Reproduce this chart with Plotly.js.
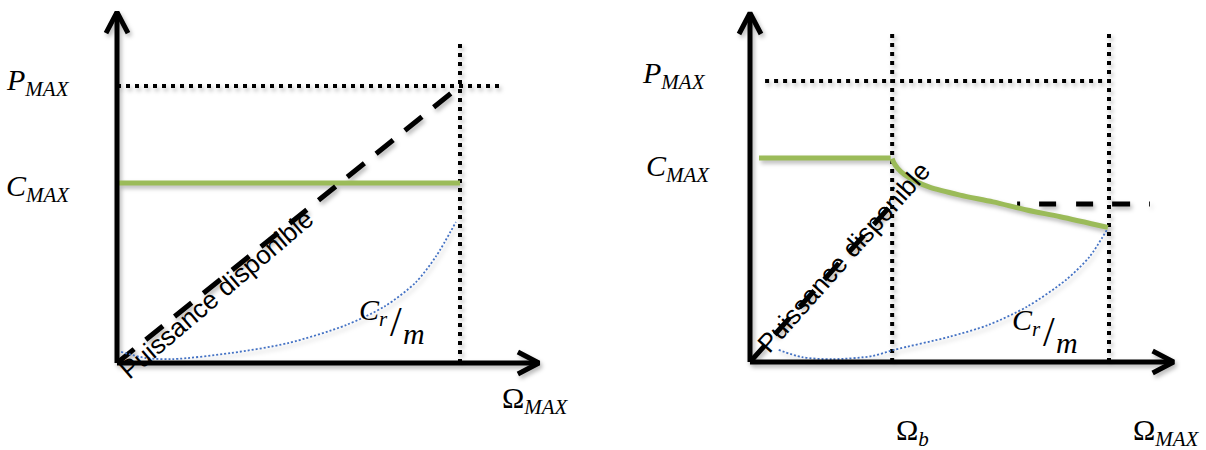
<!DOCTYPE html>
<html>
<head>
<meta charset="utf-8">
<script src="https://cdn.plot.ly/plotly-3.0.1.min.js"></script>
<style>
  html, body { margin: 0; padding: 0; background: #ffffff; }
  #chart { width: 1206px; height: 450px; }
  /* soft drop shadow under every drawn line */
  #chart .scatterlayer { filter: drop-shadow(2px 3px 2px rgba(0,0,0,0.28)); }
</style>
</head>
<body>
<div id="chart"></div>
<script>
// ---- Constant-torque drive (left) ----
const omegaMaxL = 1.0;          // Ω_MAX
const pMaxL = 1.0;              // P_MAX
const cMaxL = 0.65;             // C_MAX
const powerL_x = [0, 1.0];      // available power rises linearly up to Ω_MAX
const powerL_y = [0, 1.0];
const loadL_x = [0.012, 0.085, 0.163, 0.332, 0.499, 0.668, 0.781, 0.870, 0.930, 0.988];
const loadL_y = [0.040, 0.018, 0.014, 0.036, 0.072, 0.137, 0.205, 0.290, 0.385, 0.509];
const axisEndL = { x: 1.23, y: 1.267 };
const refEndL = { pmaxX: 1.128, omegaTop: 1.159 };

// ---- Constant-torque then constant-power drive (right) ----
const omegaMaxR = 1.0;
const omegaB = 0.396;           // Ω_b, base speed
const pMaxR = 1.0;
const cMaxR = 0.726;
const pConst = 0.562;           // power reached at Ω_b
const powerR_x = [0, 0.396];
const powerR_y = [0, 0.562];
const powerFlat_x = [0.744, 1.114];
const torqueFlat_x = [0.025, 0.392];
const torqueCurve_x = [0.396, 0.401, 0.412, 0.430, 0.460, 0.500, 0.585, 0.677, 0.771, 0.864, 0.997];
const torqueCurve_y = [0.724, 0.708, 0.688, 0.667, 0.644, 0.622, 0.594, 0.570, 0.541, 0.517, 0.479];
const loadR_x = [0.080, 0.145, 0.231, 0.340, 0.401, 0.556, 0.664, 0.772, 0.880, 0.946, 0.994];
const loadR_y = [0.043, 0.017, 0.010, 0.021, 0.043, 0.090, 0.132, 0.197, 0.292, 0.375, 0.470];
const axisEndR = { x: 1.18, y: 1.242 };
const refEndR = { pmaxX0: 0.042, pmaxX1: 1.0, omegaTop: 1.174 };

// Text
const labelP = "<i>P</i><sub><i>MAX</i></sub>";
const labelC = "<i>C</i><sub><i>MAX</i></sub>";
const labelOmegaMax = "Ω<sub><i>MAX</i></sub>";
const labelOmegaB = "Ω<sub><i>b</i></sub>";
const labelLoadNum = "<i>C</i><sub><i>r</i></sub>";
const labelLoadSlash = "/";
const labelLoadDen = "<i>m</i>";
const labelPower = "Puissance disponible";

// ---- Panel geometry (pixel placement of each diagram's origin and unit) ----
const W = 1206, H = 450;
const panels = {
  L: { x0: 0,   x1: 603,  ox: 117, oy: 363, ux: 343, uy: 277 },
  R: { x0: 603, x1: 1206, ox: 750, oy: 362, ux: 359, uy: 281 }
};
function axisRanges(p) {
  return {
    x: [(p.x0 - p.ox) / p.ux, (p.x1 - p.ox) / p.ux],
    y: [(p.oy - H) / p.uy, p.oy / p.uy]
  };
}
const rL = axisRanges(panels.L), rR = axisRanges(panels.R);

const BLACK = "#000000", GREEN = "#9BBB59", BLUE = "#4472C4";
const serif = "Liberation Serif, Times New Roman, serif";
const sans = "Liberation Sans, Arial, sans-serif";

function line(xs, ys, xa, ya, color, width, dash, shape) {
  return {
    type: "scatter", mode: "lines", x: xs, y: ys, xaxis: xa, yaxis: ya,
    line: { color: color, width: width, dash: dash || "solid", shape: shape || "linear", smoothing: 0.8 },
    hoverinfo: "skip", showlegend: false, cliponaxis: false
  };
}

// open chevron arrowheads, 21 px long and 22 px wide
function chevrons(p, end, xa, ya) {
  const len = 21, half = 11;
  const dx = len / p.ux, dy = len / p.uy, hx = half / p.ux, hy = half / p.uy;
  return [
    line([end.x - dx, end.x, end.x - dx], [hy, 0, -hy], xa, ya, BLACK, 5),
    line([-hx, 0, hx], [end.y - dy, end.y, end.y - dy], xa, ya, BLACK, 5)
  ];
}

const DOT = "4px,5px";
const DASH = "22px,15px";

const traces = [
  // left diagram
  line([0, refEndL.pmaxX], [pMaxL, pMaxL], "x", "y", BLACK, 4, DOT),
  line([omegaMaxL, omegaMaxL], [0, refEndL.omegaTop], "x", "y", BLACK, 4, DOT),
  line([0, omegaMaxL], [cMaxL, cMaxL], "x", "y", GREEN, 5),
  line(powerL_x, powerL_y, "x", "y", BLACK, 5, DASH),
  line(loadL_x, loadL_y, "x", "y", BLUE, 1.8, "2px,2px", "spline"),
  line([0, axisEndL.x], [0, 0], "x", "y", BLACK, 5),
  line([0, 0], [0, axisEndL.y], "x", "y", BLACK, 5),
  ...chevrons(panels.L, axisEndL, "x", "y"),

  // right diagram
  line([refEndR.pmaxX0, refEndR.pmaxX1], [pMaxR, pMaxR], "x2", "y2", BLACK, 4, DOT),
  line([omegaB, omegaB], [0, refEndR.omegaTop], "x2", "y2", BLACK, 4, DOT),
  line([omegaMaxR, omegaMaxR], [0, refEndR.omegaTop], "x2", "y2", BLACK, 4, DOT),
  line(powerR_x, powerR_y, "x2", "y2", BLACK, 5, DASH),
  line(powerFlat_x, [pConst, pConst], "x2", "y2", BLACK, 5, "3px,19px,17px,20px,17px,19px,18px,19px,3px"),
  line(torqueFlat_x, [cMaxR, cMaxR], "x2", "y2", GREEN, 5),
  line(torqueCurve_x, torqueCurve_y, "x2", "y2", GREEN, 5, "solid", "spline"),
  line(loadR_x, loadR_y, "x2", "y2", BLUE, 1.8, "2px,2px", "spline"),
  line([0, axisEndR.x], [0, 0], "x2", "y2", BLACK, 5),
  line([0, 0], [0, axisEndR.y], "x2", "y2", BLACK, 5),
  ...chevrons(panels.R, axisEndR, "x2", "y2")
];

function ann(text, xa, ya, x, y, xanchor, opts) {
  return Object.assign({
    text: text, xref: xa, yref: ya, x: x, y: y, xanchor: xanchor, yanchor: "middle",
    showarrow: false, font: { family: serif, size: 30, color: BLACK }
  }, opts || {});
}

// C_r / m written as a stacked-looking ratio around an anchor point
function loadLabel(xa, ya, x, y) {
  return [
    ann(labelLoadNum, xa, ya, x, y, "right", { xshift: -5, yshift: 9 }),
    ann(labelLoadSlash, xa, ya, x, y, "center", { xshift: 1, yshift: -1, font: { family: serif, size: 42, color: BLACK } }),
    ann(labelLoadDen, xa, ya, x, y, "left", { xshift: 6, yshift: -12 })
  ];
}

const annotations = [
  ann(labelP, "x", "y", -0.131, 1.015, "right"),
  ann(labelC, "x", "y", -0.131, 0.63, "right"),
  ann(labelOmegaMax, "x", "y", 1.219, -0.134, "center"),
  ...loadLabel("x", "y", 0.810, 0.150),
  ann(labelPower, "x", "y", 0.290, 0.250, "center",
      { textangle: -40.4, font: { family: sans, size: 26, color: BLACK } }),

  ann(labelP, "x2", "y2", -0.117, 1.02, "right"),
  ann(labelC, "x2", "y2", -0.106, 0.69, "right"),
  ann(labelOmegaB, "x2", "y2", omegaB + 0.058, -0.30, "center", { yanchor: "bottom", yshift: -7 }),
  ann(labelOmegaMax, "x2", "y2", 1.159, -0.30, "center", { yanchor: "bottom", yshift: -7 }),
  ...loadLabel("x2", "y2", 0.830, 0.112),
  ann(labelPower, "x2", "y2", 0.262, 0.372, "center",
      { textangle: -48.3, font: { family: sans, size: 26, color: BLACK } })
];

const hidden = { visible: false, fixedrange: true };
const layout = {
  width: W, height: H,
  margin: { l: 0, r: 0, t: 0, b: 0, pad: 0 },
  paper_bgcolor: "#ffffff", plot_bgcolor: "#ffffff",
  showlegend: false,
  xaxis:  Object.assign({ domain: [0, 0.5], range: rL.x }, hidden),
  yaxis:  Object.assign({ domain: [0, 1], range: rL.y, anchor: "x" }, hidden),
  xaxis2: Object.assign({ domain: [0.5, 1], range: rR.x, anchor: "y2" }, hidden),
  yaxis2: Object.assign({ domain: [0, 1], range: rR.y, anchor: "x2" }, hidden),
  annotations: annotations
};

Plotly.newPlot("chart", traces, layout, { staticPlot: true, displayModeBar: false });
</script>
</body>
</html>
